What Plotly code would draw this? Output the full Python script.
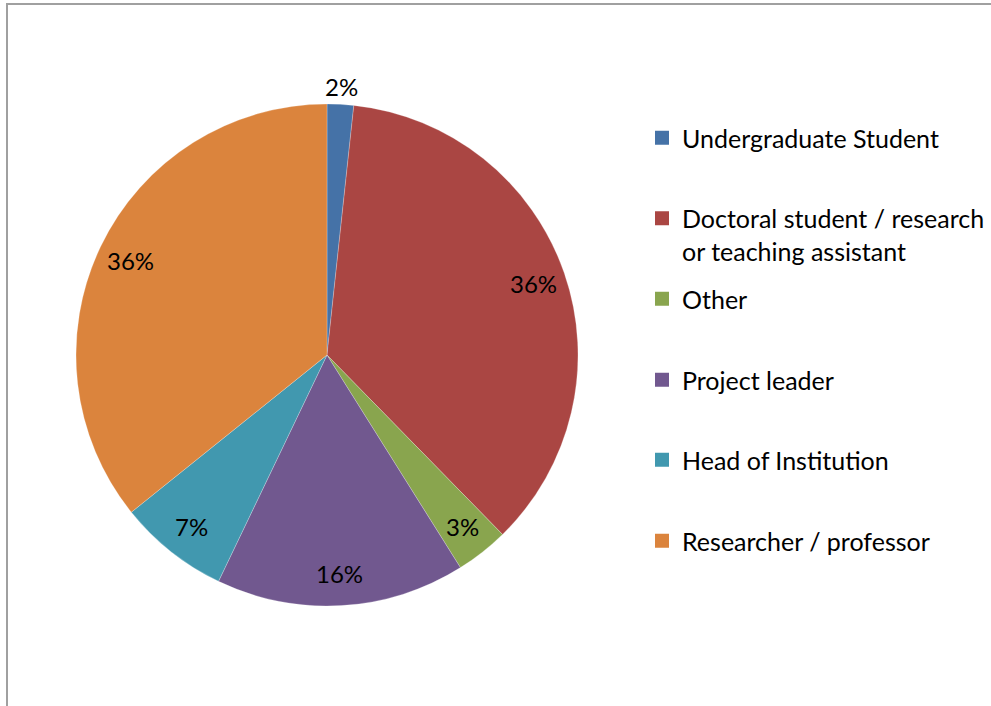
import plotly.graph_objects as go
import math

categories = ["Undergraduate Student", "Doctoral student / research<br>or teaching assistant",
              "Other", "Project leader", "Head of Institution", "Researcher / professor"]
values = [1.7, 35.9, 3.4, 16.0, 7.1, 35.7]
colors = ["#4572A7", "#AA4643", "#89A54E", "#71588F", "#4198AF", "#DB843D"]

W, H = 991, 706
FONT = "Lato"
FS_LABEL = 24
FS_LEGEND = 25

# pie geometry (pixels)
cx, cy, R = 327, 355, 251

fig = go.Figure()
fig.add_trace(go.Pie(
    labels=categories, values=values, sort=False, direction="clockwise", rotation=0,
    marker=dict(colors=colors, line=dict(color="rgba(255,255,255,0.4)", width=0.6)),
    textinfo="none", hoverinfo="label+percent", showlegend=False,
    domain=dict(x=[(cx - R) / W, (cx + R) / W], y=[1 - (cy + R) / H, 1 - (cy - R) / H]),
))

# data labels computed from the values
total = sum(values)
cum = 0
for v in values:
    mid = (cum + v / 2) / total * 2 * math.pi
    cum += v
    r = 1.07 * R if v / total < 0.025 else 0.87 * R
    px = cx + r * math.sin(mid)
    py = cy - r * math.cos(mid)
    fig.add_annotation(x=px / W, y=1 - py / H, xref="paper", yref="paper",
                       xanchor="center", yanchor="middle",
                       text=f"{round(v / total * 100)}%", showarrow=False,
                       font=dict(family=FONT, size=FS_LABEL, color="#000000"))

# legend: one legend per entry for Excel-like spacing
legend_y = [138, 234.5, 299, 380, 460, 541]
layout_legends = {}
for i, (name, col) in enumerate(zip(categories, colors)):
    key = "legend" if i == 0 else f"legend{i + 1}"
    fig.add_trace(go.Scatter(x=[None], y=[None], mode="markers", name=name,
                             marker=dict(symbol="square", size=14, color=col),
                             legend=key, showlegend=True, hoverinfo="skip"))
    layout_legends[key] = dict(x=(682 - 40) / W, y=1 - legend_y[i] / H,
                               xanchor="left", yanchor="middle", valign="top",
                               bgcolor="rgba(0,0,0,0)", borderwidth=0,
                               font=dict(family=FONT, size=FS_LEGEND, color="#000000"),
                               itemclick=False, itemdoubleclick=False)

# chart border (top & left visible, rest cut off)
fig.add_shape(type="rect", xref="paper", yref="paper",
              x0=7 / W, x1=1.05, y0=-0.05, y1=1 - 4 / H,
              line=dict(color="#a0a0a0", width=2), layer="above")

fig.update_layout(
    width=W, height=H, margin=dict(l=0, r=0, t=0, b=0, pad=0, autoexpand=False),
    paper_bgcolor="white", plot_bgcolor="white",
    xaxis=dict(visible=False), yaxis=dict(visible=False),
    font=dict(family=FONT, size=FS_LABEL),
    **layout_legends,
)

fig.write_html("out.html", config={"displayModeBar": False},
               post_script="document.body.style.margin='0';")
